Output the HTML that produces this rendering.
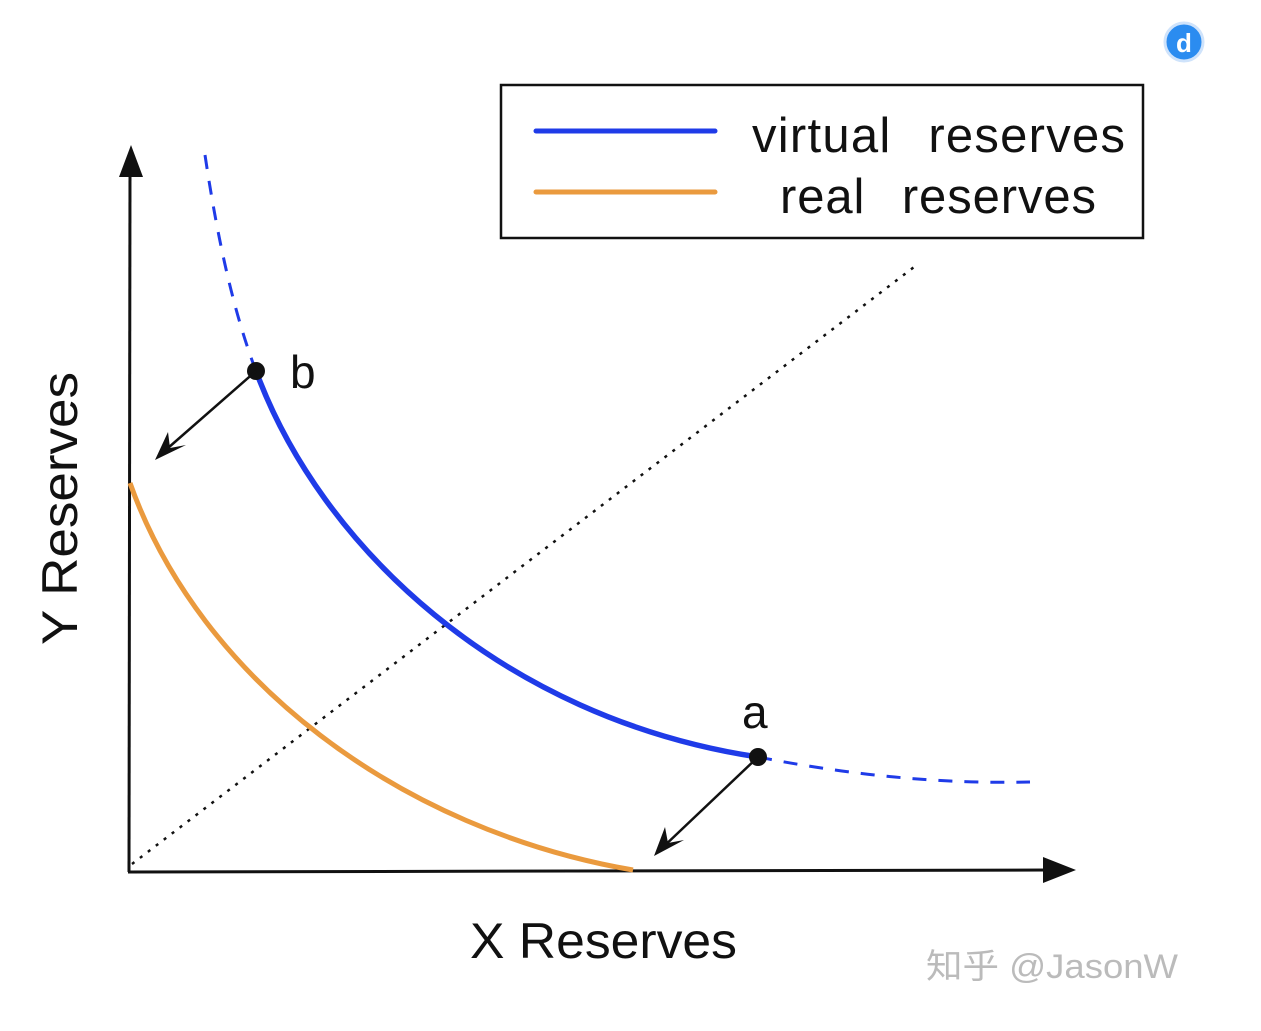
<!DOCTYPE html>
<html><head><style>body{margin:0;background:#fff}svg{display:block}</style></head><body>
<svg width="1261" height="1031" viewBox="0 0 1261 1031" xmlns="http://www.w3.org/2000/svg" font-family="Liberation Sans, Arial, sans-serif">
<rect width="1261" height="1031" fill="#fff"/>
<!-- legend -->
<rect x="501" y="85" width="642" height="153" fill="none" stroke="#111" stroke-width="2.5"/>
<line x1="536" y1="131" x2="715" y2="131" stroke="#1f3be8" stroke-width="5" stroke-linecap="round"/>
<line x1="536" y1="192" x2="715" y2="192" stroke="#ea9a3e" stroke-width="5" stroke-linecap="round"/>
<text x="752" y="152" font-size="49" fill="#111" word-spacing="22" textLength="373" lengthAdjust="spacing">virtual reserves</text>
<text x="780" y="213" font-size="49" fill="#111" word-spacing="22" textLength="316" lengthAdjust="spacing">real reserves</text>
<!-- axes -->
<line x1="129" y1="872" x2="130" y2="170" stroke="#111" stroke-width="3"/>
<polygon points="131,145 119,177 143,177" fill="#111"/>
<line x1="128" y1="872" x2="1048" y2="870" stroke="#111" stroke-width="3"/>
<polygon points="1076,870 1043,857 1043,883" fill="#111"/>
<!-- diagonal dotted -->
<line x1="132" y1="864" x2="918" y2="264" stroke="#111" stroke-width="2.5" stroke-dasharray="3,7"/>
<!-- orange -->
<path d="M130,483 C200,680 400,830 633,870" fill="none" stroke="#ea9a3e" stroke-width="5"/>
<!-- blue -->
<path d="M205,155 Q225,290 256,371" fill="none" stroke="#1f3be8" stroke-width="3" stroke-dasharray="14,12"/>
<path d="M758,757 Q900,785 1030,782" fill="none" stroke="#1f3be8" stroke-width="3" stroke-dasharray="14,12"/>
<path d="M256,371 C320,545 500,718 758,757" fill="none" stroke="#1f3be8" stroke-width="5.5"/>
<circle cx="256" cy="371" r="9" fill="#111"/>
<circle cx="758" cy="757" r="9" fill="#111"/>
<!-- arrows -->
<line x1="256" y1="371" x2="160" y2="455" stroke="#111" stroke-width="2.5"/>
<path d="M155,460 L168,432 L170,448 L186,445 Z" fill="#111"/>
<line x1="758" y1="757" x2="660" y2="850" stroke="#111" stroke-width="2.5"/>
<path d="M654,856 L665,827 L668,843 L684,840 Z" fill="#111"/>
<text x="290" y="388" font-size="46" fill="#111">b</text>
<text x="742" y="728" font-size="46" fill="#111">a</text>
<text x="470" y="958" font-size="50" fill="#111" textLength="267" lengthAdjust="spacingAndGlyphs">X Reserves</text>
<text transform="translate(77,645) rotate(-90)" font-size="50" fill="#111" textLength="273" lengthAdjust="spacingAndGlyphs">Y Reserves</text>
<text x="926" y="978" font-size="34" fill="#bbb" font-family="Liberation Sans, Noto Sans CJK SC, sans-serif" textLength="252" lengthAdjust="spacingAndGlyphs">知乎 @JasonW</text>
<circle cx="1184" cy="42" r="19" fill="#2b8cf0" stroke="#cfe3fb" stroke-width="3"/>
<text x="1184" y="52" font-size="26" fill="#fff" text-anchor="middle" font-weight="bold">d</text>
</svg>
</body></html>
